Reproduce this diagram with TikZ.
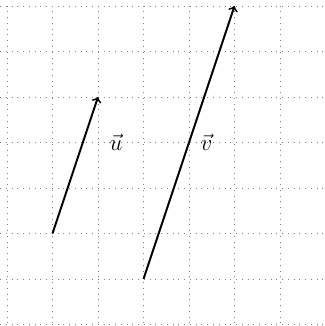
\documentclass[tikz,border=0pt]{standalone}
\begin{document}
\begin{tikzpicture}
\tikzset{gridline/.style={gray, line width=0.6pt, dash pattern=on 0.6pt off 3pt},
  vec/.style={line width=1.2pt, ->},
  lab/.style={right, inner sep=0pt, xshift=7pt, font=\Large}}
\useasboundingbox (-0.154,-0.033) rectangle (6.967,7.132);
\draw[gridline] (-0.154,-0.1) grid (6.99,7);
\coordinate (u0) at (1,2);
\coordinate (u1) at (2,5);
\coordinate (v0) at (3,1);
\coordinate (v1) at (5,7);
\draw[vec] (u0) -- (u1);
\draw[vec] (v0) -- (v1);
\node[lab] (lu) at (2,4) {$\vec{u}$};
\node[lab] (lv) at (4,4) {$\vec{v}$};
\end{tikzpicture}
\end{document}
